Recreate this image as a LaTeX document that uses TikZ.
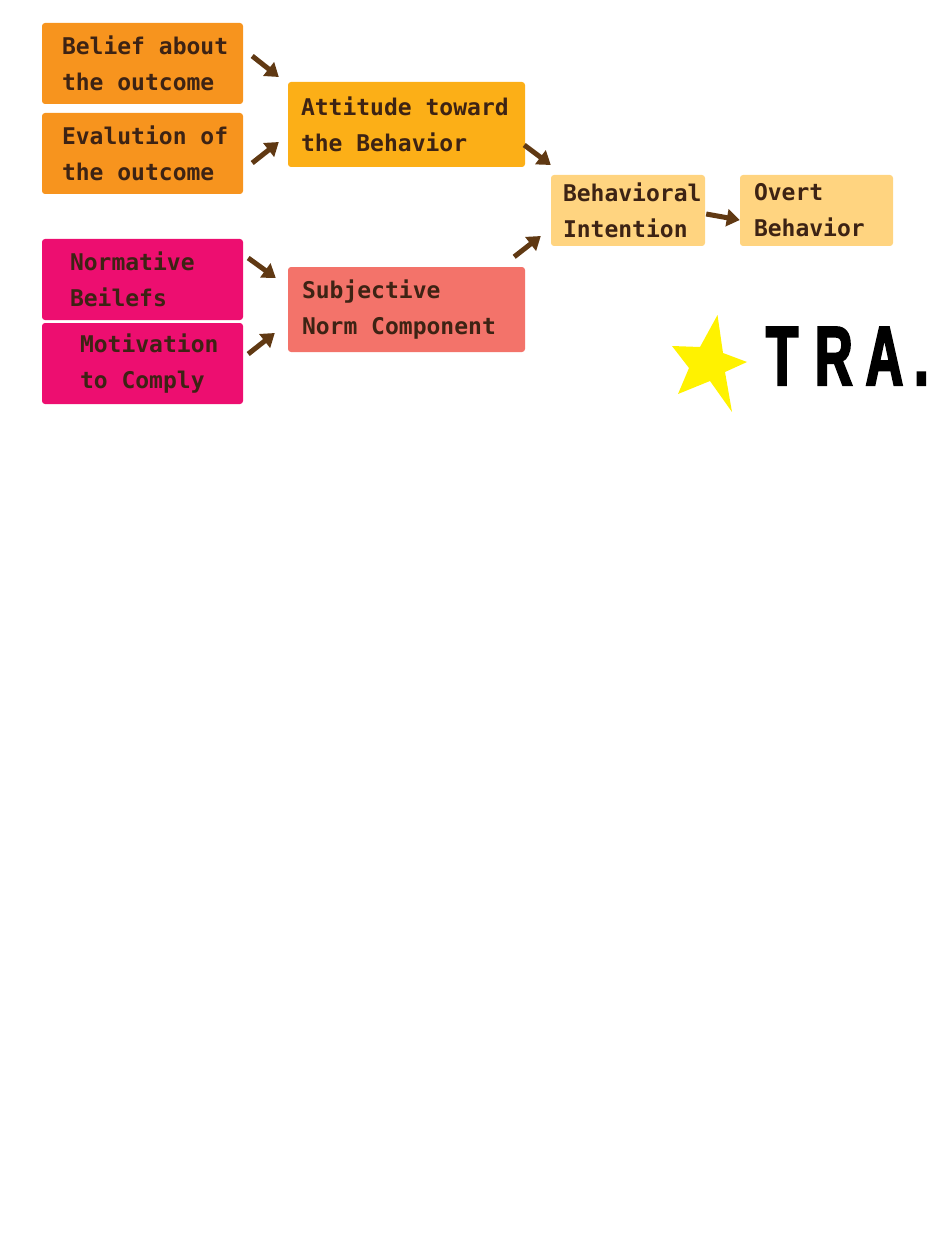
\documentclass[tikz,border=0pt]{standalone}
\usepackage{fontspec}
\usetikzlibrary{arrows.meta}
\newfontfamily\boxfont{DejaVu Sans Mono}
\newfontfamily\trafont[FakeStretch=0.62,FakeBold=2.5]{Liberation Sans}
\newcommand\cardfont{\boxfont\bfseries\fontsize{23}{36}\selectfont}
\newcommand\wordgap{\hspace*{0.602em}}
\definecolor{beliefor}{RGB}{247,148,30}
\definecolor{attor}{RGB}{252,175,23}
\definecolor{normpink}{RGB}{237,14,112}
\definecolor{normsalmon}{RGB}{243,115,106}
\definecolor{intentpale}{RGB}{255,212,128}
\definecolor{inkbrown}{RGB}{61,35,20}
\definecolor{arrowbrown}{RGB}{96,57,19}
\definecolor{staryellow}{RGB}{255,242,0}
\begin{document}
\begin{tikzpicture}[x=1pt,y=-1pt,
    card/.style={rectangle,rounded corners=3pt,align=left,inner ysep=0pt,
      text=inkbrown,font=\cardfont},
    push/.style={-{Triangle[length=13pt,width=17pt]},line width=5pt,arrowbrown}]
  \useasboundingbox (0,0) rectangle (945,1241);
  \node [card,fill=beliefor,minimum height=81pt,inner xsep=20pt,text width=161pt] (belief) at (142.5,63.5) {Belief\wordgap about\\the\wordgap outcome};
  \node [card,fill=beliefor,minimum height=81pt,inner xsep=20pt,text width=161pt] (eval) at (142.5,153.5) {Evalution\wordgap of\\the\wordgap outcome};
  \node [card,fill=attor,minimum height=85pt,inner xsep=13pt,text width=211pt] (att) at (406.5,124.5) {Attitude\wordgap toward\\the\wordgap Behavior};
  \node [card,fill=normpink,minimum height=81pt,inner xsep=28pt,text width=145pt] (norm) at (142.5,279.5) {Normative\\Beilefs};
  \node [card,fill=normpink,minimum height=81pt,inner xsep=38pt,text width=125pt] (motiv) at (142.5,363.5) {Motivation\\to\wordgap Comply};
  \node [card,fill=normsalmon,minimum height=85pt,inner xsep=14pt,text width=209pt] (sn) at (406.5,309.5) {Subjective\\Norm\wordgap Component};
  \node [card,fill=intentpale,minimum height=71pt,inner xsep=12pt,text width=130pt] (bi) at (628,210.5) {Behavioral\\Intention};
  \node [card,fill=intentpale,minimum height=71pt,inner xsep=14pt,text width=125pt] (ob) at (816.5,210.5) {Overt\\Behavior};
  \draw [push] ([xshift=9pt,yshift=7.5pt]belief.east) -- ([xshift=-9pt,yshift=47.5pt]att.west);
  \draw [push] ([xshift=9pt,yshift=-9.5pt]eval.east) -- ([xshift=-9pt,yshift=-17.5pt]att.west);
  \draw [push] ([xshift=-1pt,yshift=-20.5pt]att.east) -- ([yshift=45.5pt]bi.west);
  \draw [push] ([xshift=5pt,yshift=21.5pt]norm.east) -- ([xshift=-12pt,yshift=31.5pt]sn.west);
  \draw [push] ([xshift=5pt,yshift=9.5pt]motiv.east) -- ([xshift=-13pt,yshift=-23.5pt]sn.west);
  \draw [push] ([xshift=-11pt,yshift=10pt]sn.north east) -- ([xshift=-10pt,yshift=-25.5pt]bi.west);
  \draw [push] ([xshift=1pt,yshift=-3.5pt]bi.east) -- ([yshift=-9.5pt]ob.west);
  % star and title
  \fill [staryellow] (717.5,315) -- (723,353) -- (747,362) -- (725,372) -- (732,412)
    -- (710,381) -- (678,394) -- (689,368) -- (672,346) -- (700,347) -- cycle;
  \node [anchor=base west,inner sep=0pt,font=\trafont\bfseries\fontsize{84}{84}\selectfont] (tra) at (766,385) {T\kern17pt R\kern13pt A\kern11pt.};
\end{tikzpicture}
\end{document}
